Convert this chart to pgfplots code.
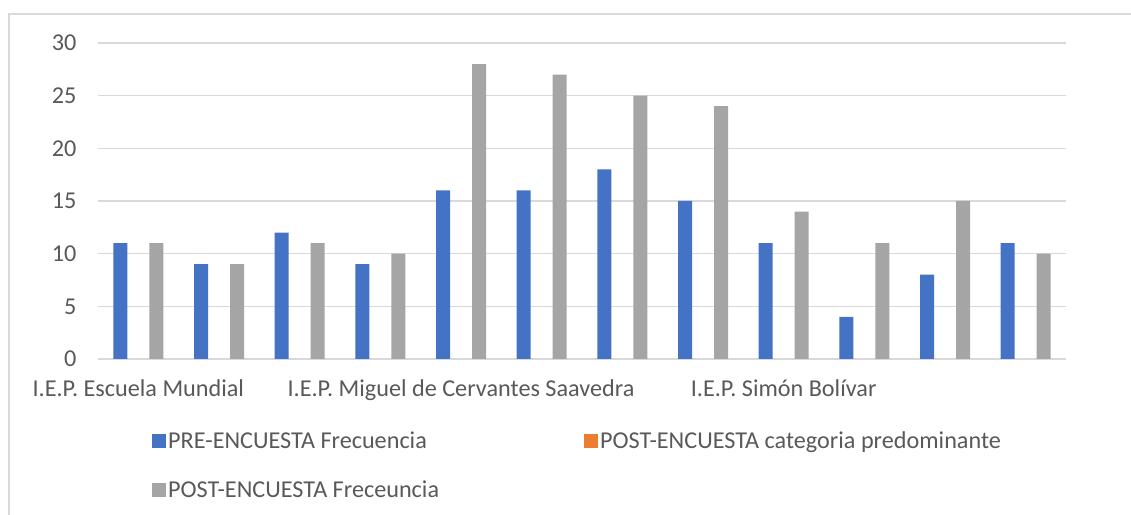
\documentclass[border=0pt]{standalone}
\usepackage{fontspec}
\setmainfont{Carlito}
\usepackage{pgfplots}
\pgfplotsset{compat=1.18}
\definecolor{cblue}{HTML}{4472C4}
\definecolor{corange}{HTML}{ED7D31}
\definecolor{cgray}{HTML}{A5A5A5}
\definecolor{ctext}{HTML}{595959}
\definecolor{cgrid}{HTML}{D9D9D9}
\begin{document}
\begin{tikzpicture}
\useasboundingbox (0,0) rectangle (1131bp,515bp);
\fill[white] (0,0) rectangle (1131bp,515bp);
\draw[cgrid, line width=1.5bp] (9bp,-20bp) -- (9bp,501bp) -- (1150bp,501bp);
\begin{axis}[
  at={(98bp,156bp)}, anchor=south west,
  scale only axis, width=968bp, height=316bp,
  xmin=0.5, xmax=12.5, ymin=0, ymax=30,
  ybar=4bp, bar width=14bp,
  xtick={1,...,12},
  xticklabels={I.E.P. Escuela Mundial,,,,I.E.P. Miguel de Cervantes Saavedra,,,,I.E.P. Simón Bolívar,,,},
  ytick={0,5,...,30},
  ymajorgrids, grid style={cgrid, line width=1.5bp},
  axis x line*=bottom, axis y line*=left,
  x axis line style={cgrid, line width=1.5bp, -},
  y axis line style={draw=none},
  major tick length=0pt,
  /pgf/number format/assume math mode=true,
  tick label style={font=\fontsize{24.2bp}{28bp}\selectfont, text=ctext},
  yticklabel style={xshift=-18bp},
  xticklabel style={yshift=-17bp},
  legend style={at={(54bp,-71bp)}, anchor=north west, draw=none, fill=none,
    font=\fontsize{24.2bp}{28bp}\selectfont, text=ctext, inner sep=0pt,
    row sep=26bp,
    /tikz/every even column/.append style={column sep=143bp},
    nodes={inner xsep=2bp}},
  legend columns=2, legend cell align=left,
  legend image code/.code={\fill[#1] (-6bp,-7bp) rectangle (8bp,7bp);},
]
\addplot[fill=cblue, draw=none] coordinates {(1,11) (2,9) (3,12) (4,9) (5,16) (6,16) (7,18) (8,15) (9,11) (10,4) (11,8) (12,11)};
\addplot[fill=corange, draw=none] coordinates {(1,0) (2,0) (3,0) (4,0) (5,0) (6,0) (7,0) (8,0) (9,0) (10,0) (11,0) (12,0)};
\addplot[fill=cgray, draw=none] coordinates {(1,11) (2,9) (3,11) (4,10) (5,28) (6,27) (7,25) (8,24) (9,14) (10,11) (11,15) (12,10)};
\legend{PRE-ENCUESTA Frecuencia, POST-ENCUESTA categoria predominante, POST-ENCUESTA Freceuncia}
\end{axis}
\end{tikzpicture}
\end{document}
